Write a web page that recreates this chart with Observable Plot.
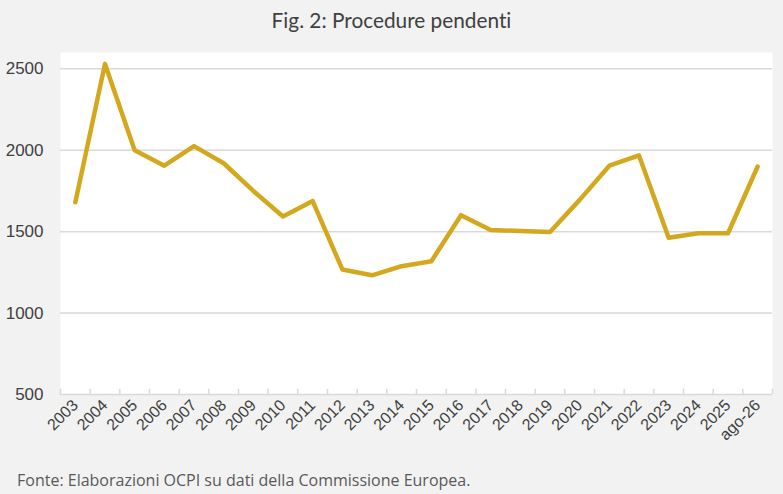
<!DOCTYPE html>
<html>
<head>
<meta charset="utf-8">
<script src="https://cdn.jsdelivr.net/npm/d3@7"></script>
<script src="https://cdn.jsdelivr.net/npm/@observablehq/plot@0.6"></script>
<style>
  html, body { margin: 0; padding: 0; background: #F2F2F2; }
  body { width: 783px; height: 494px; overflow: hidden; }
  #title { height: 40px; line-height: 40px; text-align: center; font-family: Lato, "Open Sans", sans-serif; font-size: 20.8px; color: #404040; font-variant-ligatures: none; }
  #caption { height: 34px; line-height: 40px; padding-left: 17px; font-family: "Open Sans", "Noto Sans", sans-serif; font-size: 16px; color: #595959; }
  svg { display: block; }
</style>
</head>
<body>
<div id="title">Fig. 2: Procedure pendenti</div>
<div id="chart"></div>
<div id="caption">Fonte: Elaborazioni OCPI su dati della Commissione Europea.</div>
<script>
const categories = ["2003","2004","2005","2006","2007","2008","2009","2010","2011","2012","2013","2014","2015","2016","2017","2018","2019","2020","2021","2022","2023","2024","2025","ago-26"];
const values = [1680, 2530, 2000, 1905, 2025, 1920, 1750, 1593, 1688, 1268, 1232, 1288, 1318, 1601, 1510, 1504, 1498, 1695, 1905, 1968, 1462, 1490, 1490, 1900];
const yTicks = [500, 1000, 1500, 2000, 2500];
const gridValues = [1000, 1500, 2000, 2500];

const data = categories.map((c, i) => ({i, c, v: values[i]}));
const idx = d3.range(categories.length);
const boundaries = d3.range(categories.length + 1).map(k => k - 0.5);
const axisFont = "Liberation Sans, Arial, sans-serif";

const chart = Plot.plot({
  width: 783,
  height: 420,
  marginLeft: 60,
  marginRight: 11,
  marginTop: 12,
  marginBottom: 66,
  style: {background: "transparent", fontFamily: axisFont},
  x: {type: "linear", domain: [-0.5, categories.length - 0.5]},
  y: {domain: [500, 2600]},
  marks: [
    Plot.frame({fill: "white", stroke: null}),
    Plot.ruleY(gridValues, {stroke: "#D9D9D9", strokeWidth: 1.5}),
    Plot.ruleY([500], {stroke: "#D9D9D9", strokeWidth: 1.5}),
    Plot.ruleX(boundaries, {y1: 500, y2: 532, stroke: "#D9D9D9", strokeWidth: 1.5}),
    Plot.axisY(yTicks, {tickSize: 0, tickPadding: 17, fontSize: 17, fontFamily: axisFont, fill: "#404040", tickFormat: d => String(d), label: null}),
    Plot.axisX(idx, {tickSize: 0, tickPadding: 8, tickRotate: -45, fontSize: 16, fontFamily: axisFont, fill: "#404040", tickFormat: i => categories[i], label: null}),
    Plot.line(data, {x: "i", y: "v", stroke: "#D4A81E", strokeWidth: 4.5, strokeLinejoin: "round", strokeLinecap: "round"})
  ]
});
document.getElementById("chart").appendChild(chart);
</script>
</body>
</html>
